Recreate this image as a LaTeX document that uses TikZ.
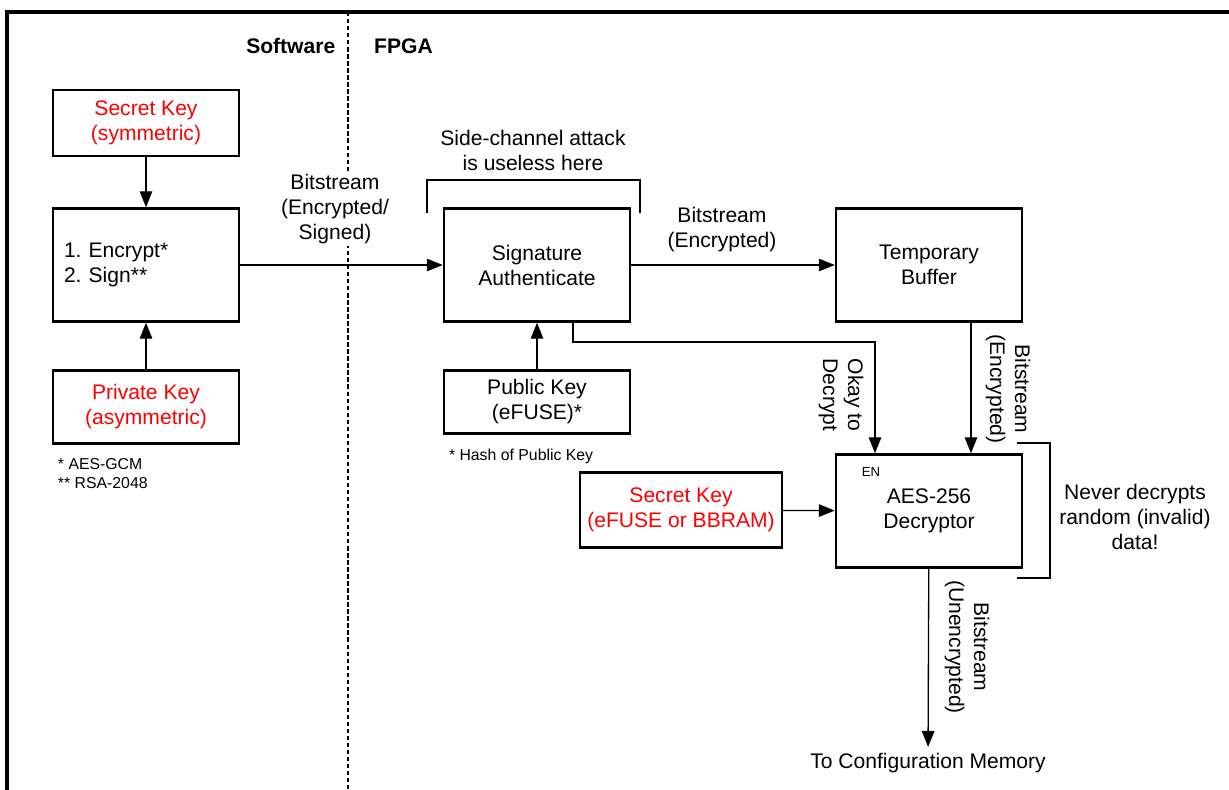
\documentclass[tikz,border=0pt]{standalone}
\usepackage{fontspec}
\setmainfont{Liberation Sans}
\usetikzlibrary{arrows.meta,positioning}

\tikzset{
  blk/.style={draw, line width=1.4pt, minimum width=3.72cm, minimum height=2.26cm, align=center, inner sep=0pt},
  keyblk/.style={blk, text=red},
  arr/.style={line width=0.75pt, -{Triangle[length=0.32cm,width=0.25cm]}},
  brk/.style={line width=0.9pt},
  lbl/.style={align=center},
  head/.style={font=\bfseries\fontsize{12}{14.2}\selectfont},
  note/.style={align=left, font=\fontsize{9}{10.8}\selectfont},
}

\begin{document}
\begin{tikzpicture}[x=0.02cm, y=-0.02cm, font=\fontsize{12}{14.2}\selectfont]
\useasboundingbox (0,0) rectangle (1229,790);
\draw[line width=1.8pt] (7,790) -- (7,12) -- (1229,12); % frame
\draw[line width=0.7pt, dash pattern=on 2.5pt off 1.5pt] (348,12) -- (348,790); % Software | FPGA
\node[head, left=0.13cm of {(348,46)}] (sw) {Software};
\node[head, right=0.4cm of {(348,46)}] (fpga) {FPGA};
%% Software side
\node[keyblk, minimum height=1.32cm] (symkey) at (146,123) {Secret Key\\(symmetric)};
\node[blk, align=left, text width=3.28cm] (enc) at (146,265) {1.\ Encrypt*\\2.\ Sign**};
\node[keyblk, minimum height=1.46cm] (privkey) at (146,407) {Private Key\\(asymmetric)};
\node[note, below right=0.16cm and 0cm of privkey.south west] (fnote) {* AES-GCM\\** RSA-2048};
%% FPGA side
\node[blk] (sig) at (537,265) {Signature\\Authenticate};
\node[blk, minimum height=1.26cm] (pubkey) at (537,402) {Public Key\\(eFUSE)*};
\node[note, below right=0.17cm and 0cm of pubkey.south west] (hnote) {* Hash of Public Key};
\node[blk] (temp) at (929,265) {Temporary\\Buffer};
\node[blk] (aes) at (929,511) {AES-256\\Decryptor};
\node[font=\fontsize{7.5}{8}\selectfont] (en) at (871,472) {EN};
\node[keyblk, minimum width=4.04cm, minimum height=1.5cm] (chipkey) at (681,510) {Secret Key\\(eFUSE or BBRAM)};
\node (mem) at (928,763) {To Configuration Memory};
%% Labels
\node[lbl, fill=white, inner sep=1pt] (bsenc) at (335,209) {Bitstream\\(Encrypted/\\Signed)};
\node[lbl] (side) at (533,150) {Side-channel attack\\is useless here};
\node[lbl] (bscrypt) at (722,230) {Bitstream\\(Encrypted)};
\node[lbl, rotate=-90] (okay) at (841,395) {Okay to\\Decrypt};
\node[lbl, rotate=-90] (bsbuf) at (1008,389) {Bitstream\\(Encrypted)};
\node[lbl, rotate=-90] (bsout) at (967,647) {Bitstream\\(Unencrypted)};
\node[lbl] (never) at (1135,517) {Never decrypts\\random (invalid)\\data!};
%% Connectors
\draw[arr] (symkey) -- (enc); % key -> encrypt
\draw[arr] (privkey) -- (enc); % private key -> sign
\draw[arr] (enc) -- (sig); % bitstream in
\draw[arr] (pubkey) -- (sig); % public key
\draw[arr] (sig) -- (temp); % encrypted bitstream
\draw[arr] ([xshift=0.84cm]temp.south) -- ([xshift=0.84cm]aes.north); % buffer -> decryptor
\coordinate (bend) at (875,342);
\draw[arr] ([xshift=0.72cm]sig.south) |- (bend) -- (bend |- aes.north); % okay to decrypt
\draw[arr] (chipkey) -- (aes); % secret key
\draw[arr] (aes) -- (mem); % to memory
%% Brackets
\draw[brk] (427,213) |- (640,180) -- (640,213); % over sig
\draw[brk] (1017,443) -| (1050,578) -- (1017,578); % beside aes
\end{tikzpicture}
\end{document}
